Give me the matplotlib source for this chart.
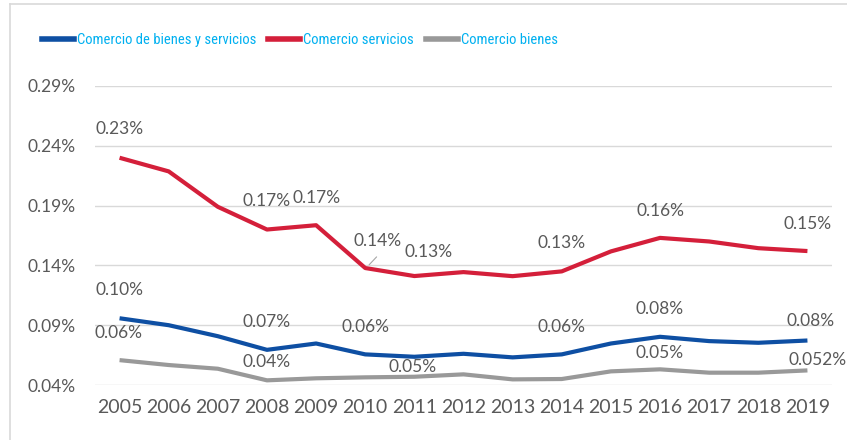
import matplotlib
matplotlib.use("Agg")
import matplotlib.pyplot as plt
from matplotlib.lines import Line2D
from matplotlib import font_manager

years = ["2005", "2006", "2007", "2008", "2009", "2010", "2011", "2012",
         "2013", "2014", "2015", "2016", "2017", "2018", "2019"]
total = [0.0958, 0.0900, 0.0808, 0.0694, 0.0747, 0.0656, 0.0636, 0.0661,
         0.0631, 0.0656, 0.0747, 0.0803, 0.0767, 0.0753, 0.0772]
servicios = [0.2300, 0.2186, 0.1890, 0.1700, 0.1736, 0.1378, 0.1311, 0.1344,
             0.1310, 0.1350, 0.1517, 0.1630, 0.1600, 0.1544, 0.1520]
bienes = [0.0608, 0.0567, 0.0536, 0.0439, 0.0456, 0.0464, 0.0469, 0.0489,
          0.0447, 0.0450, 0.0514, 0.0531, 0.0503, 0.0503, 0.0522]
series_names = ["Comercio de bienes y servicios", "Comercio servicios", "Comercio bienes"]
yticks = [0.04, 0.09, 0.14, 0.19, 0.24, 0.29]

# labels: (series index, year index, text)
labels = [
    (1, 0, "0.23%"), (1, 3, "0.17%"), (1, 4, "0.17%"), (1, 5, "0.14%"),
    (1, 6, "0.13%"), (1, 9, "0.13%"), (1, 11, "0.16%"), (1, 14, "0.15%"),
    (0, 0, "0.10%"), (0, 3, "0.07%"), (0, 5, "0.06%"), (0, 9, "0.06%"),
    (0, 11, "0.08%"), (0, 14, "0.08%"),
    (2, 0, "0.06%"), (2, 3, "0.04%"), (2, 6, "0.05%"), (2, 11, "0.05%"),
    (2, 14, "0.052%"),
]
offsets = {
    (1, 0): (0, 29), (1, 3): (0, 29), (1, 4): (0, 27), (1, 5): (12, 27),
    (1, 6): (14, 24), (1, 9): (0, 28), (1, 11): (0, 27), (1, 14): (0, 27),
    (0, 0): (0, 28), (0, 3): (0, 28), (0, 5): (0, 27), (0, 9): (0, 27),
    (0, 11): (0, 28), (0, 14): (3, 20),
    (2, 0): (-1, 27), (2, 3): (0, 18), (2, 6): (-2, 10), (2, 11): (0, 16),
    (2, 14): (10, 10),
}

def pick(names):
    for n in names:
        try:
            font_manager.findfont(n, fallback_to_default=False)
            return n
        except Exception:
            pass
    return "DejaVu Sans"

main_font = pick(["Lato", "Liberation Sans", "DejaVu Sans"])
narrow_font = pick(["Liberation Sans Narrow", "DejaVu Sans Condensed", "Roboto Condensed", main_font])

plt.rcParams["font.family"] = [main_font, "DejaVu Sans"]

fig = plt.figure(figsize=(8.47, 4.40), dpi=100)
ax = fig.add_axes([95 / 847, 1 - 385 / 440, (832 - 95) / 847, (385 - 86) / 440])

colors = ["#0E4FA3", "#D41F3A", "#999999"]
data = [total, servicios, bienes]
x = list(range(len(years)))
for i in [2, 0, 1]:
    ax.plot(x, data[i], color=colors[i], lw=3.0, solid_capstyle="butt",
            label=series_names[i], zorder=3)

txtcol = "#595959"
for si, yi, t in labels:
    dx, dy = offsets[(si, yi)]
    ax.annotate(t, (x[yi], data[si][yi]), xytext=(dx, dy), textcoords="offset pixels",
                ha="center", va="center", fontsize=12.5, color=txtcol, zorder=4)
# leader line for 2010 servicios label
ax.annotate("", xy=(x[5] + 0.04, servicios[5] + 0.001), xytext=(x[5] + 0.27, servicios[5] + 0.011),
            arrowprops=dict(arrowstyle="-", color="#A6A6A6", lw=0.8))

ax.set_xlim(-0.5, len(years) - 0.5)
ax.set_ylim(0.04, 0.29)
ax.set_xticks(x)
ax.set_xticklabels(years)
ax.set_yticks(yticks)
ax.set_yticklabels([f"{v:.2f}%" for v in yticks])
ax.tick_params(axis="x", length=0, labelsize=14, colors=txtcol, pad=10)
ax.tick_params(axis="y", length=0, labelsize=12.5, colors=txtcol, pad=14)
ax.grid(axis="y", color="#D9D9D9", lw=1.0)
ax.set_axisbelow(True)
for s in ax.spines.values():
    s.set_visible(False)

handles = [Line2D([], [], color=colors[i], lw=4) for i in range(3)]
leg = fig.legend(handles, series_names, loc="center left", bbox_to_anchor=(38 / 847, 1 - 40 / 440),
                 ncol=3, frameon=False, handlelength=2.2, handletextpad=0.2, columnspacing=0.8,
                 borderaxespad=0, borderpad=0.3,
                 prop={"family": [narrow_font, "DejaVu Sans"], "size": 10.5})
for t in leg.get_texts():
    t.set_color("#00B0F0")

# chart border
fig.add_artist(Line2D([10 / 847, 10 / 847], [0, 1 - 4 / 440], color="#D9D9D9", lw=1.2,
                      transform=fig.transFigure))
fig.add_artist(Line2D([10 / 847, 1], [1 - 4 / 440, 1 - 4 / 440], color="#D9D9D9", lw=1.2,
                      transform=fig.transFigure))

fig.savefig("out.png", dpi=100)
